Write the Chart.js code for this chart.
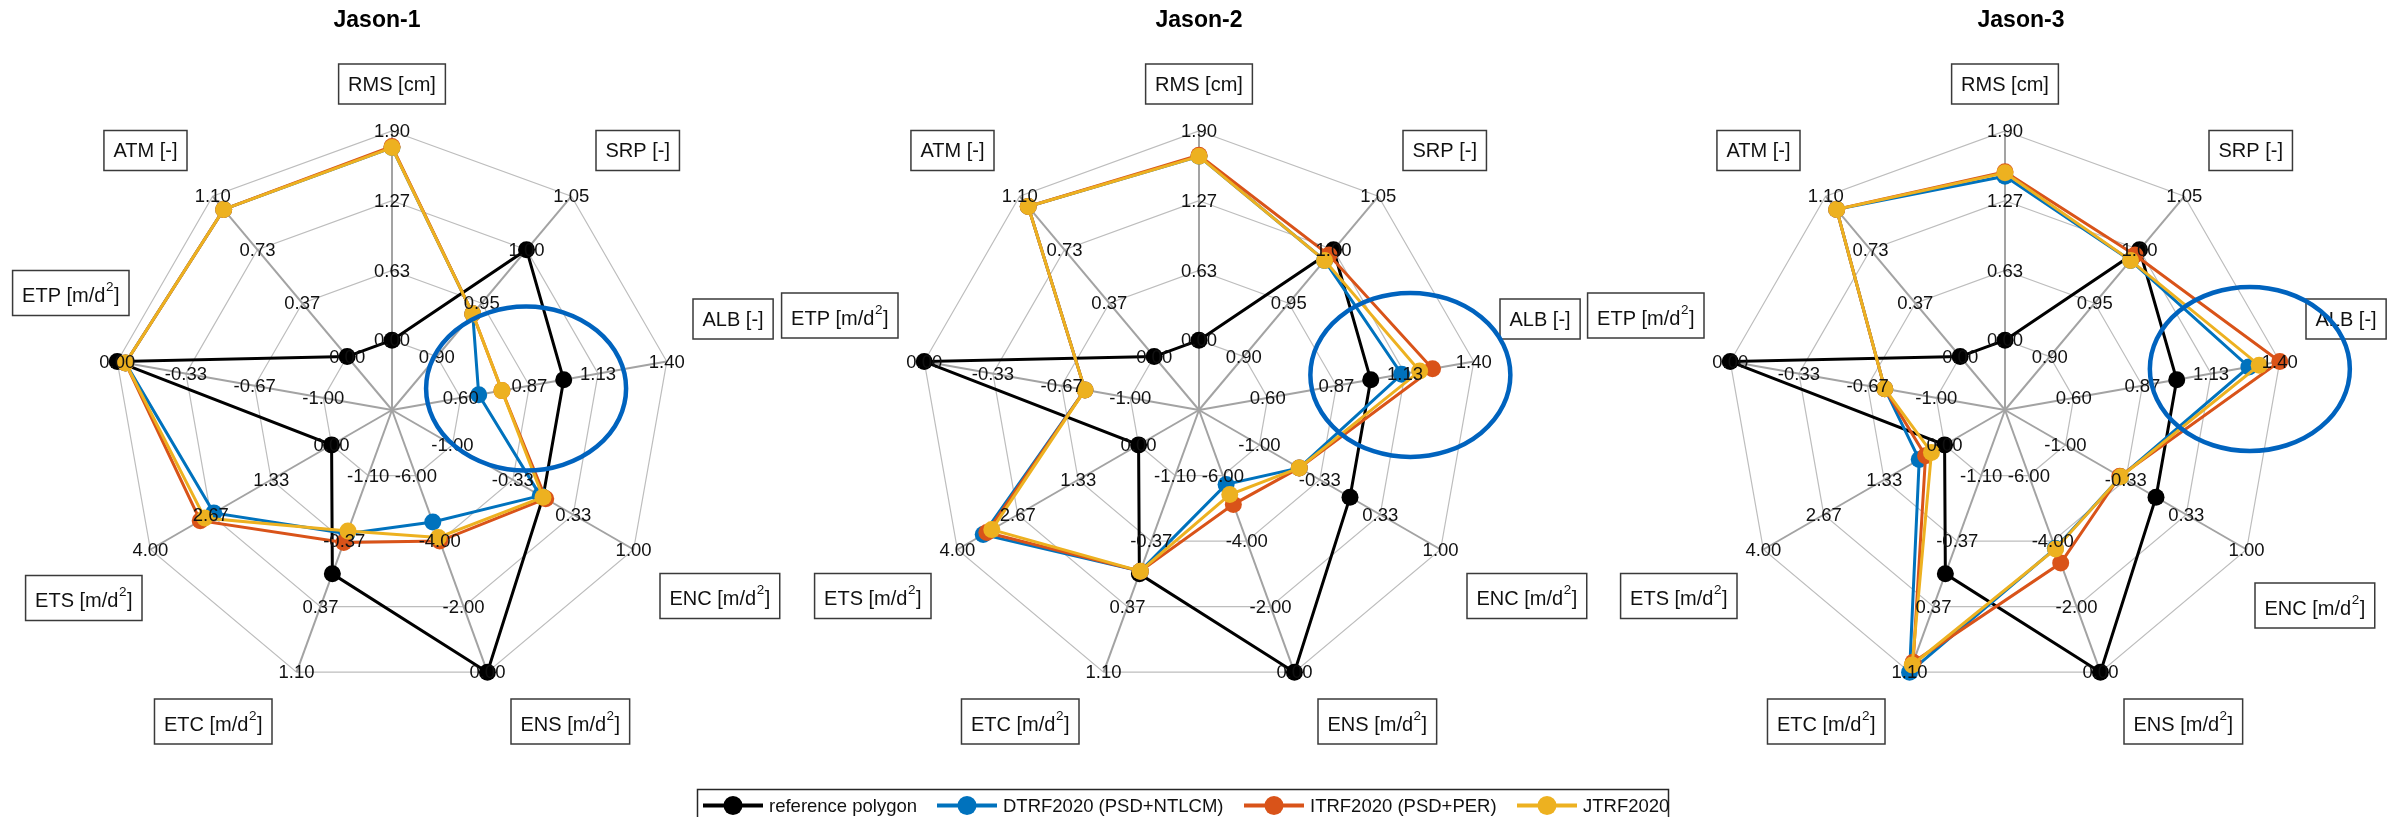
<!DOCTYPE html>
<html>
<head>
<meta charset="utf-8">
<script src="https://cdn.jsdelivr.net/npm/chart.js@4.4.1/dist/chart.umd.min.js"></script>
<style>
  html, body { margin: 0; padding: 0; background: #ffffff; }
  #fig { position: relative; width: 2392px; height: 817px; overflow: hidden; }
  #fig canvas { position: absolute; left: 0; top: 0; }
</style>
</head>
<body>
<div id="fig">
  <canvas id="spider1" width="2392" height="817"></canvas>
  <canvas id="spider2" width="2392" height="817"></canvas>
  <canvas id="spider3" width="2392" height="817"></canvas>
</div>
<script>
// ---------- data ----------
const axisNames = ['RMS [cm]', 'SRP [-]', 'ALB [-]', 'ENC [m/d²]', 'ENS [m/d²]',
                   'ETC [m/d²]', 'ETS [m/d²]', 'ETP [m/d²]', 'ATM [-]'];

// tick labels of every spoke, inner ring to outer ring
const axisTicks = [
  ['0.00', '0.63', '1.27', '1.90'],
  ['0.90', '0.95', '1.00', '1.05'],
  ['0.60', '0.87', '1.13', '1.40'],
  ['-1.00', '-0.33', '0.33', '1.00'],
  ['-6.00', '-4.00', '-2.00', '0.00'],
  ['-1.10', '-0.37', '0.37', '1.10'],
  ['0.00', '1.33', '2.67', '4.00'],
  ['-1.00', '-0.67', '-0.33', '0.00'],
  ['0.00', '0.37', '0.73', '1.10']
];
const axisMin = [0.00, 0.90, 0.60, -1.00, -6.00, -1.10, 0.00, -1.00, 0.00];
const axisMax = [1.90, 1.05, 1.40, 1.00, 0.00, 1.10, 4.00, 0.00, 1.10];

const satellites = ['Jason-1', 'Jason-2', 'Jason-3'];
const seriesNames = ['reference polygon', 'DTRF2020 (PSD+NTLCM)', 'ITRF2020 (PSD+PER)', 'JTRF2020'];

// values in spoke order: RMS, SRP, ALB, ENC, ENS, ETC, ETS, ETP, ATM
const referencePolygon = [0.00, 1.00, 1.00, 0.00, 0.00, 0.00, 0.00, 0.00, 0.00];

const jason1DTRF = [1.75, 0.94, 0.67, -0.03, -4.58, -0.45, 2.60, -0.04, 1.01];
const jason1ITRF = [1.76, 0.94, 0.76, 0.03, -4.00, -0.35, 2.90, -0.04, 1.01];
const jason1JTRF = [1.75, 0.94, 0.76, 0.00, -4.11, -0.48, 2.80, -0.04, 1.01];

const jason2DTRF = [1.67, 0.99, 1.12, -0.56, -5.73, -0.03, 3.43, -0.78, 1.03];
const jason2ITRF = [1.68, 0.995, 1.24, -0.56, -5.12, -0.03, 3.35, -0.78, 1.03];
const jason2JTRF = [1.67, 0.99, 1.19, -0.56, -5.42, -0.03, 3.24, -0.78, 1.03];

const jason3DTRF = [1.49, 0.99, 1.28, -0.39, -3.78, 1.10, 0.56, -0.75, 1.01];
const jason3ITRF = [1.53, 0.995, 1.40, -0.40, -3.33, 0.99, 0.42, -0.75, 1.01];
const jason3JTRF = [1.52, 0.99, 1.32, -0.39, -3.76, 1.02, 0.29, -0.75, 1.01];

// ALB value around which the highlight ellipse is drawn
const albHighlight = [0.85, 1.15, 1.28];

// ---------- layout & style ----------
const FIG_W = 2392, FIG_H = 817;
const RADIUS = 279;
const hubX = [392, 1199.5, 2005];
const hubY = 410.5;
const titleX = [377, 1199, 2021];
const titleY = 21;

const seriesColors = ['#000000', '#0072BD', '#D95319', '#EDB120'];
const FONT = '"Liberation Sans", Arial, Helvetica, sans-serif';

// label box placement relative to the hub: anchor side, x of that side, y of box bottom
const boxLayout = [
  { side: 'center', dx: 0,      bottom: -306 },
  { side: 'left',   dx: 204,    bottom: -239.5 },
  { side: 'left',   dx: 301,    bottom: -71 },
  { side: 'left',   dx: 268,    bottom: 208.5 },
  { side: 'left',   dx: 119,    bottom: 334 },
  { side: 'right',  dx: -120,   bottom: 334 },
  { side: 'right',  dx: -268,   bottom: 208.5 },
  { side: 'right',  dx: -301,   bottom: -72 },
  { side: 'right',  dx: -205,   bottom: -239.5 }
];
// boxes pulled inward to stay inside the figure
const boxOverrides = [
  { 7: { dx: -263, bottom: -94.5 }, 6: { dx: -250, bottom: 210.5 } },
  {},
  { 3: { dx: 250, bottom: 218 } }
];

const legendX = [703, 937, 1244, 1517];
const legendY = 805.5;

function norm(v, i) {
  return 0.25 + 0.75 * (v - axisMin[i]) / (axisMax[i] - axisMin[i]);
}

// label with an optional raised "2"
function measureLabel(ctx, text) {
  const parts = text.split('²');
  ctx.font = '20px ' + FONT;
  let w = ctx.measureText(parts[0]).width;
  if (parts.length > 1) {
    w += ctx.measureText(parts[1]).width;
    ctx.font = '13.5px ' + FONT;
    w += ctx.measureText('2').width + 1;
  }
  return w;
}
function drawLabel(ctx, text, x, yMid) {
  const parts = text.split('²');
  ctx.textAlign = 'left';
  ctx.textBaseline = 'middle';
  ctx.font = '20px ' + FONT;
  ctx.fillText(parts[0], x, yMid);
  let cx = x + ctx.measureText(parts[0]).width;
  if (parts.length > 1) {
    ctx.font = '13.5px ' + FONT;
    ctx.fillText('2', cx + 0.5, yMid - 9);
    cx += ctx.measureText('2').width + 1;
    ctx.font = '20px ' + FONT;
    ctx.fillText(parts[1], cx, yMid);
  }
}

const spiderDecor = {
  id: 'spiderDecor',
  afterDatasetsDraw(chart, args, opts) {
    const k = opts.index;
    const ctx = chart.ctx;
    const s = chart.scales.r;
    const cx = s.xCenter, cy = s.yCenter;

    // per-spoke tick labels at every ring
    ctx.save();
    ctx.fillStyle = '#111111';
    ctx.font = '18.5px ' + FONT;
    ctx.textAlign = 'center';
    ctx.textBaseline = 'middle';
    axisTicks.forEach((labels, i) => {
      labels.forEach((t, j) => {
        const p = s.getPointPositionForValue(i, (j + 1) / 4);
        ctx.fillText(t, p.x, p.y + 1);
      });
    });
    ctx.restore();

    // boxed spoke names
    ctx.save();
    axisNames.forEach((name, i) => {
      const lay = Object.assign({}, boxLayout[i], boxOverrides[k][i] || {});
      const tw = measureLabel(ctx, name);
      const w = tw + 19;
      const sup = name.indexOf('²') >= 0;
      const h = sup ? 45 : 40;
      let left;
      if (lay.side === 'center') left = cx + lay.dx - w / 2;
      else if (lay.side === 'left') left = cx + lay.dx;
      else left = cx + lay.dx - w;
      const bottom = cy + lay.bottom;
      ctx.fillStyle = '#ffffff';
      ctx.fillRect(left, bottom - h, w, h);
      ctx.strokeStyle = '#3a3a3a';
      ctx.lineWidth = 1.5;
      ctx.strokeRect(left, bottom - h, w, h);
      ctx.fillStyle = '#111111';
      drawLabel(ctx, name, left + 9.5, bottom - 19);
    });
    ctx.restore();

    // title
    ctx.save();
    ctx.fillStyle = '#000000';
    ctx.font = 'bold 23px ' + FONT;
    ctx.textAlign = 'center';
    ctx.textBaseline = 'middle';
    ctx.fillText(satellites[k], titleX[k], titleY);
    ctx.restore();

    // highlight ellipse on the ALB spoke
    const e = s.getPointPositionForValue(2, norm(albHighlight[k], 2));
    ctx.save();
    ctx.strokeStyle = '#0063BE';
    ctx.lineWidth = 4.5;
    ctx.beginPath();
    ctx.ellipse(e.x + 1, e.y + 2, 100, 82, 0, 0, Math.PI * 2);
    ctx.stroke();
    ctx.restore();
  }
};

const legendRow = {
  id: 'legendRow',
  afterDraw(chart, args, opts) {
    if (!opts.show) return;
    const ctx = chart.ctx;
    ctx.save();
    ctx.strokeStyle = '#262626';
    ctx.lineWidth = 1.5;
    ctx.strokeRect(697.5, 789.5, 971, 40);
    chart.data.datasets.forEach((ds, i) => {
      const x0 = legendX[i];
      ctx.strokeStyle = ds.borderColor;
      ctx.lineWidth = 4;
      ctx.beginPath();
      ctx.moveTo(x0, legendY);
      ctx.lineTo(x0 + 60, legendY);
      ctx.stroke();
      ctx.fillStyle = ds.borderColor;
      ctx.beginPath();
      ctx.arc(x0 + 30, legendY, 9.5, 0, Math.PI * 2);
      ctx.fill();
      ctx.fillStyle = '#111111';
      ctx.font = '18.5px ' + FONT;
      ctx.textAlign = 'left';
      ctx.textBaseline = 'middle';
      ctx.fillText(ds.label, x0 + 66, legendY + 1);
    });
    ctx.restore();
  }
};

const seriesByChart = [
  [referencePolygon, jason1DTRF, jason1ITRF, jason1JTRF],
  [referencePolygon, jason2DTRF, jason2ITRF, jason2JTRF],
  [referencePolygon, jason3DTRF, jason3ITRF, jason3JTRF]
];

seriesByChart.forEach((series, k) => {
  const datasets = series.map((vals, j) => ({
    label: seriesNames[j],
    data: vals.map((v, i) => norm(v, i)),
    borderColor: seriesColors[j],
    backgroundColor: seriesColors[j],
    pointBackgroundColor: seriesColors[j],
    pointBorderColor: seriesColors[j],
    pointBorderWidth: 0,
    pointRadius: 8.5,
    borderWidth: 3,
    fill: false,
    tension: 0,
    clip: false,
    order: 4 - j
  }));

  new Chart(document.getElementById('spider' + (k + 1)), {
    type: 'radar',
    data: { labels: axisNames, datasets },
    options: {
      responsive: false,
      devicePixelRatio: 1,
      animation: false,
      events: [],
      layout: {
        padding: {
          left: hubX[k] - RADIUS,
          right: FIG_W - hubX[k] - RADIUS,
          top: hubY - RADIUS,
          bottom: FIG_H - hubY - RADIUS
        }
      },
      scales: {
        r: {
          min: 0,
          max: 1,
          beginAtZero: true,
          ticks: { display: false, stepSize: 0.25 },
          pointLabels: { display: false },
          grid: { color: '#bdbdbd', lineWidth: 1.2 },
          angleLines: { color: '#a3a3a3', lineWidth: 2 }
        }
      },
      plugins: {
        legend: { display: false },
        title: { display: false },
        tooltip: { enabled: false },
        spiderDecor: { index: k },
        legendRow: { show: k === 1 }
      }
    },
    plugins: [spiderDecor, legendRow]
  });
});
</script>
</body>
</html>
